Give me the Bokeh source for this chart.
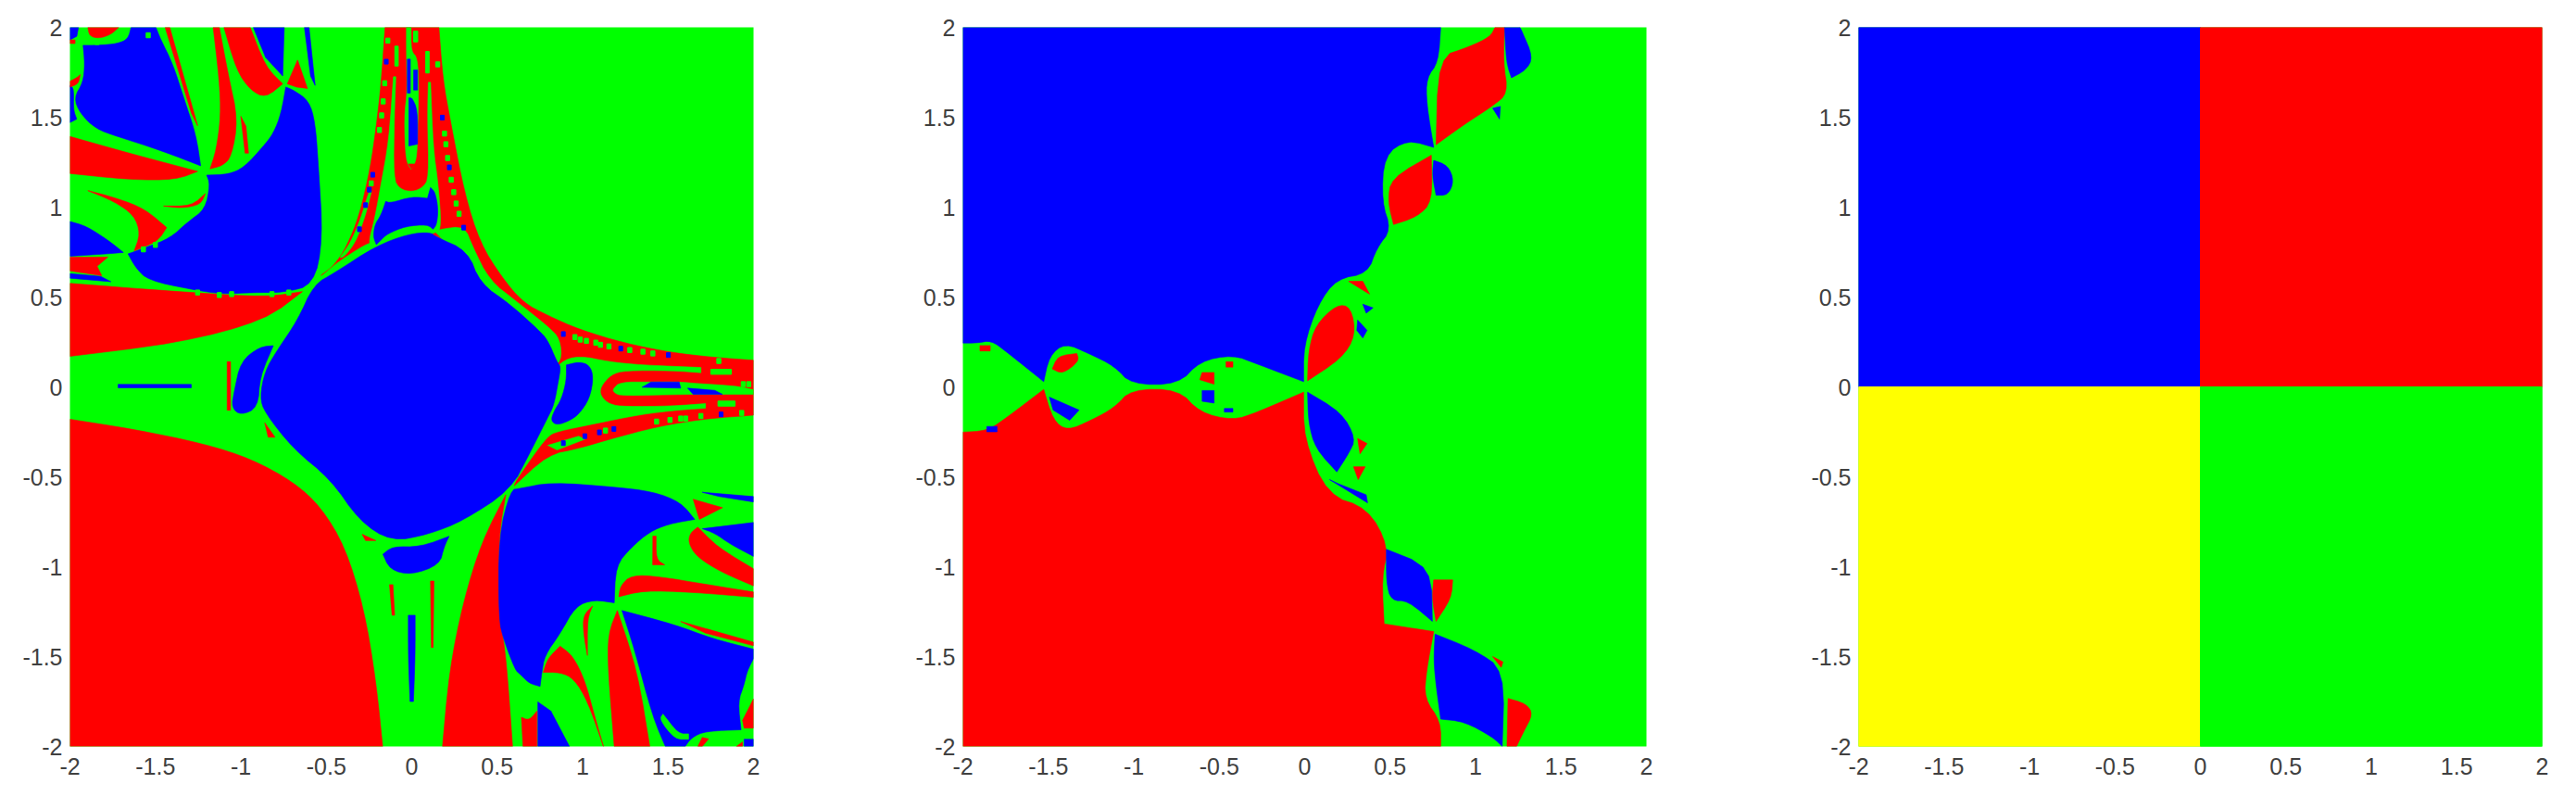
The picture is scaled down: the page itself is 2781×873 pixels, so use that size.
import math
from bokeh.plotting import figure
from bokeh.layouts import row
from bokeh.models import Range1d, FixedTicker
from bokeh.embed import file_html
from bokeh.resources import INLINE

RED, GREEN, BLUE, YELLOW = "#ff0000", "#00ff00", "#0000ff", "#ffff00"
tick_values = [-2, -1.5, -1, -0.5, 0, 0.5, 1, 1.5, 2]
tick_labels = ["-2", "-1.5", "-1", "-0.5", "0", "0.5", "1", "1.5", "2"]

# ---------- panel 1: outlines (x, y) ----------
a_red_bottom_left = [(-2,-0.18),(-1.63,-0.235),(-1.22,-0.315),(-0.94,-0.40),(-0.69,-0.53),(-0.53,-0.67),(-0.39,-0.89),(-0.28,-1.23),(-0.21,-1.63),(-0.17,-2),(-2,-2)]
a_red_bottom_mid = [(0.18,-2),(0.22,-1.58),(0.30,-1.2),(0.41,-0.86),(0.55,-0.60),(0.509,-0.83),(0.509,-1.29),(0.537,-1.40),(0.56,-1.6),(0.59,-2)]
a_red_left_mid = [(-2,0.576),(-1.651,0.55),(-1.289,0.525),(-0.855,0.499),(-0.64,0.53),(-0.86,0.37),(-1.36,0.245),(-2,0.17)]
a_red_top = [(-0.53,0.62),(-0.451,0.679),(-0.379,0.783),(-0.306,0.955),(-0.243,1.213),(-0.207,1.453),(-0.18,1.677),(-0.156,2),(0.159,2),(0.182,1.711),(0.228,1.47),(0.309,1.075),(0.40,0.80),(0.526,0.611),(0.65,0.47),(0.796,0.397),(0.977,0.32),(1.249,0.242),(1.52,0.191),(1.755,0.165),(2,0.148),(2,-0.157),(1.70,-0.179),(1.43,-0.222),(1.158,-0.291),(0.977,-0.342),(0.796,-0.377),(0.60,-0.55),(0.75,-0.2),(0.8,0.15),(0.3,0.8),(-0.1,0.9)]
a_green_c_top = [(-0.107,1.725),(-0.093,1.725),(-0.102,1.505),(-0.107,1.161),(-0.071,1.101),(0.002,1.084),(0.065,1.109),(0.101,1.161),(0.092,1.505),(0.097,1.694),(0.110,1.694),(0.125,1.333),(0.155,1.127),(0.173,0.894),(0.146,0.851),(-0.234,0.783),(-0.252,0.808),(-0.216,0.937),(-0.18,1.127),(-0.134,1.367)]
a_green_u_top = [(-0.031,2),(-0.004,2),(-0.004,1.866),(0.034,1.832),(0.041,1.660),(0.034,1.419),(0.029,1.264),(-0.002,1.209),(-0.035,1.256),(-0.044,1.505),(-0.026,1.643),(-0.031,1.849)]
a_green_stripe_top = [(-0.25,1.09),(-0.235,1.09),(-0.27,0.955),(-0.33,0.80),(-0.40,0.72),(-0.42,0.72),(-0.36,0.80),(-0.30,0.93)]
a_green_diag_tl = [(-0.22,0.80),(-0.26,0.80),(-0.47,0.67),(-0.574,0.568),(-0.45,0.62)]
a_green_diag_tr = [(0.14,0.86),(0.164,0.877),(0.309,0.894),(0.355,0.783),(0.454,0.593),(0.62,0.47),(0.796,0.337),(0.868,0.268),(0.877,0.14),(0.80,0.1),(0.3,0.7)]
a_green_c_right = [(0.868,0.139),(0.977,0.174),(1.158,0.139),(1.339,0.122),(1.692,0.108),(1.692,0.079),(1.52,0.091),(1.249,0.091),(1.167,0.070),(1.104,0.0),(1.104,-0.05),(1.158,-0.098),(1.249,-0.11),(1.52,-0.107),(1.719,-0.093),(1.719,-0.119),(1.574,-0.127),(1.339,-0.153),(1.068,-0.205),(0.85,-0.248),(0.796,-0.274),(0.70,-0.395),(0.60,-0.535),(0.65,-0.40),(0.796,-0.1),(0.796,0.036)]
a_green_u_right = [(1.176,-0.012),(1.221,0.027),(1.393,0.027),(1.574,0.027),(1.665,0.019),(1.90,0.005),(2,-0.016),(2,-0.041),(1.882,-0.041),(1.61,-0.041),(1.23,-0.05),(1.185,-0.033)]
a_green_stripe_low = [(0.796,-0.325),(0.977,-0.274),(1.013,-0.291),(0.85,-0.351)]
a_blue_right_strip_1 = [(1.348,-0.002),(1.40,0.027),(1.565,0.027),(1.574,-0.007)]
a_blue_right_strip_2 = [(1.614,-0.007),(1.646,-0.041),(1.818,-0.041),(1.773,-0.019)]
a_blue_u_1 = [(-0.026,1.823),(-0.008,1.823),(-0.008,1.634),(-0.026,1.634)]
a_blue_u_2 = [(0.011,1.763),(0.034,1.763),(0.034,1.651),(0.011,1.651)]
a_blue_u_3 = [(-0.017,1.608),(0.002,1.608),(0.034,1.54),(0.034,1.35),(-0.017,1.34)]
a_red_u_tip = [(-0.02,1.24),(0.02,1.24),(0,1.21)]
a_blue_lens_top = [(-0.225,0.834),(-0.216,0.903),(-0.18,0.955),(-0.152,1.032),(-0.125,1.023),(0.002,1.058),(0.092,1.049),(0.110,1.109),(0.137,1.083),(0.155,0.989),(0.146,0.903),(0.125,0.877),(0.092,0.903),(-0.035,0.894),(-0.143,0.851),(-0.18,0.817),(-0.207,0.791)]
a_blue_lens_right = [(0.905,0.122),(0.977,0.139),(1.04,0.122),(1.064,0.053),(1.04,-0.067),(0.977,-0.153),(0.923,-0.188),(0.85,-0.213),(0.814,-0.188),(0.832,-0.136),(0.877,-0.067),(0.905,0.036)]
a_blue_lens_left = [(-1.04,-0.029),(-1.0,0.143),(-0.888,0.223),(-0.81,0.229),(-0.888,0.057),(-0.90,-0.115),(-1.0,-0.158),(-1.054,-0.115)]
a_blue_lens_bottom = [(-0.169,-0.931),(-0.113,-0.888),(0.05,-0.89),(0.219,-0.831),(0.19,-0.888),(0.163,-0.989),(-0.003,-1.046),(-0.127,-1.017)]
a_blue_diamond = [(-0.574,0.568),(-0.451,0.635),(-0.207,0.785),(-0.017,0.851),(0.11,0.86),(0.14,0.835),(0.327,0.757),(0.40,0.576),(0.578,0.458),(0.744,0.315),(0.796,0.26),(0.85,0.139),(0.872,0.113),(0.859,0.036),(0.832,-0.102),(0.796,-0.17),(0.69,-0.37),(0.578,-0.573),(0.30,-0.745),(0.10,-0.82),(-0.12,-0.86),(-0.307,-0.745),(-0.473,-0.516),(-0.694,-0.344),(-0.86,-0.143),(-0.888,-0.057),(-0.86,0.086),(-0.79,0.2),(-0.667,0.372)]
a_blue_main_tl = [(-1.2,1.178),(-1.072,1.182),(-0.981,1.221),(-0.873,1.333),(-0.809,1.41),(-0.764,1.522),(-0.737,1.668),(-0.692,1.651),(-0.601,1.591),(-0.565,1.47),(-0.547,1.247),(-0.52,0.817),(-0.574,0.568),(-0.746,0.525),(-0.927,0.525),(-1.108,0.516),(-1.289,0.542),(-1.542,0.593),(-1.615,0.662),(-1.66,0.74),(-1.56,0.774),(-1.416,0.826),(-1.307,0.92),(-1.208,0.989),(-1.18,1.127)]
a_blue_corner_tl = [(-1.923,1.9),(-1.832,1.9),(-1.723,1.909),(-1.66,1.935),(-1.642,2),(-1.497,2),(-1.47,1.935),(-1.398,1.797),(-1.334,1.608),(-1.262,1.402),(-1.235,1.23),(-1.47,1.316),(-1.723,1.393),(-1.85,1.436),(-1.941,1.522),(-1.977,1.608),(-1.923,1.694),(-1.913,1.797)]
a_blue_edge_1 = [(-2,1.677),(-1.977,1.66),(-1.98,1.54),(-1.96,1.49),(-2,1.47)]
a_blue_edge_2 = [(-2,2),(-1.95,2),(-1.96,1.95),(-2,1.93)]
a_blue_left = [(-2,0.92),(-1.904,0.894),(-1.778,0.817),(-1.687,0.748),(-1.778,0.74),(-2,0.727)]
a_blue_left_thin = [(-2,0.63),(-1.82,0.615),(-1.76,0.585),(-2,0.605)]
a_blue_top_1 = [(-0.927,2),(-0.746,2),(-0.755,1.729),(-0.855,1.832)]
a_blue_top_2 = [(-0.628,2),(-0.601,2),(-0.565,1.677),(-0.592,1.729)]
a_blue_mid_left = [(-1.718,0.014),(-1.29,0.014),(-1.29,-0.005),(-1.718,-0.005)]
a_blue_bottom_stripe = [(-0.02,-1.27),(0.02,-1.27),(0.02,-1.5),(0.01,-1.75),(-0.01,-1.75),(-0.02,-1.5)]
a_red_arc_top = [(-1.895,2),(-1.714,2),(-1.76,1.96),(-1.832,1.938),(-1.886,1.952)]
a_red_edge_1 = [(-2,1.93),(-1.97,1.93),(-1.97,1.91),(-2,1.91)]
a_red_edge_2 = [(-2,1.70),(-1.96,1.72),(-1.94,1.737),(-1.95,1.686),(-2,1.668)]
a_red_wedge_left = [(-2,1.393),(-1.651,1.299),(-1.253,1.199),(-1.38,1.152),(-1.651,1.152),(-2,1.187)]
a_red_crescent_left = [(-1.895,1.092),(-1.723,1.049),(-1.56,0.989),(-1.434,0.886),(-1.488,0.808),(-1.624,0.757),(-1.588,0.851),(-1.624,0.955),(-1.742,1.032)]
a_red_thin_left = [(-1.452,1.006),(-1.289,1.006),(-1.208,1.075),(-1.235,1.015),(-1.343,0.994)]
a_red_strip_left = [(-2,0.722),(-1.778,0.722),(-1.841,0.671),(-1.814,0.619),(-2,0.645)]
a_red_leaf_1 = [(-1.162,2),(-1.126,2),(-1.072,1.729),(-1.017,1.488),(-1.054,1.281),(-1.108,1.23),(-1.18,1.213),(-1.144,1.316),(-1.117,1.505),(-1.126,1.711)]
a_red_leaf_2 = [(-1.099,2),(-0.945,2),(-0.855,1.78),(-0.755,1.686),(-0.855,1.608),(-0.945,1.651),(-1.026,1.763)]
a_red_tip = [(-0.728,1.686),(-0.668,1.818),(-0.61,1.66),(-0.674,1.668)]
a_red_hair_1 = [(-1.443,2),(-1.416,2),(-1.253,1.453),(-1.289,1.522)]
a_red_hair_2 = [(-1.0,1.505),(-0.97,1.45),(-0.955,1.3),(-0.975,1.3)]
a_red_hair_3 = [(-1.08,0.14),(-1.06,0.14),(-1.06,-0.13),(-1.08,-0.13)]
a_red_small_1 = [(-0.86,-0.2),(-0.80,-0.28),(-0.84,-0.28)]
a_red_small_2 = [(-0.29,-0.82),(-0.21,-0.855),(-0.27,-0.855)]
a_red_hair_4 = [(-0.13,-1.1),(-0.11,-1.1),(-0.10,-1.27),(-0.115,-1.27)]
a_red_hair_5 = [(0.11,-1.08),(0.13,-1.08),(0.125,-1.45),(0.115,-1.45)]
a_blue_br_main = [(0.578,-0.573),(0.633,-0.565),(0.814,-0.531),(1.176,-0.556),(1.411,-0.582),(1.574,-0.642),(1.656,-0.737),(1.502,-0.763),(1.393,-0.806),(1.285,-0.892),(1.194,-0.995),(1.185,-1.201),(1.067,-1.184),(0.959,-1.219),(0.868,-1.373),(0.778,-1.494),(0.76,-1.597),(0.751,-1.666),(0.687,-1.649),(0.633,-1.597),(0.606,-1.576),(0.537,-1.404),(0.509,-1.289),(0.509,-0.831)]
a_blue_br_right = [(1.701,-0.789),(2,-0.754),(2,-0.943),(1.864,-0.875),(1.773,-0.814)]
a_blue_br_thin = [(1.70,-0.586),(2,-0.61),(2,-0.64),(1.8,-0.61)]
a_blue_br_low = [(1.23,-1.244),(1.538,-1.322),(1.755,-1.399),(2,-1.459),(2,-1.511),(1.963,-1.58),(1.945,-1.657),(1.909,-1.752),(1.927,-1.907),(1.719,-1.915),(1.638,-1.95),(1.60,-2),(1.484,-2),(1.411,-1.838),(1.303,-1.459)]
a_red_br_triangle = [(1.647,-0.625),(1.819,-0.672),(1.683,-0.737)]
a_red_br_crescent = [(1.674,-0.78),(1.791,-0.892),(2,-1.012),(2,-1.107),(1.81,-1.03),(1.665,-0.943),(1.619,-0.866),(1.629,-0.814)]
a_red_br_wedge = [(1.212,-1.167),(1.221,-1.107),(1.285,-1.047),(1.448,-1.055),(1.719,-1.098),(2,-1.141),(2,-1.17),(1.629,-1.141),(1.357,-1.133)]
a_red_br_big = [(1.203,-1.244),(1.32,-1.58),(1.393,-2),(1.185,-2),(1.149,-1.58),(1.149,-1.373)]
a_red_br_leaf = [(0.769,-1.588),(0.796,-1.511),(0.868,-1.442),(0.941,-1.494),(1.013,-1.631),(1.067,-1.821),(1.122,-2),(1.031,-1.752),(0.95,-1.623),(0.868,-1.588)]
a_red_br_thin = [(1.004,-1.27),(1.058,-1.219),(1.028,-1.287),(1.028,-1.494),(1.005,-1.37)]
a_red_br_low_1 = [(0.642,-1.838),(0.687,-1.855),(0.733,-1.803),(0.733,-2),(0.651,-2)]
a_red_br_low_2 = [(1.674,-2),(1.70,-1.95),(1.737,-1.958),(1.70,-2)]
a_red_br_low_3 = [(1.90,-2),(1.935,-1.975),(1.935,-2)]
a_red_br_corner = [(1.936,-1.855),(2,-1.735),(2,-1.898),(1.945,-1.898)]
a_red_br_hair = [(1.574,-1.305),(2,-1.42),(2,-1.44),(1.72,-1.37)]
a_red_br_fleck = [(1.411,-0.83),(1.43,-0.83),(1.43,-0.96),(1.48,-0.99),(1.41,-0.99)]
a_blue_br_bottom = [(0.738,-1.752),(0.814,-1.803),(0.923,-2),(0.738,-2)]
a_blue_br_corner = [(1.945,-1.96),(2,-1.96),(2,-2),(1.945,-2)]
a_green_br_hook = [(1.47,-1.82),(1.56,-1.93),(1.62,-1.93),(1.62,-1.96),(1.54,-1.96),(1.45,-1.85)]

a_red_layer = [a_red_top, a_red_bottom_left, a_red_bottom_mid, a_red_left_mid]
a_green_layer = [a_green_c_top, a_green_stripe_top, a_green_diag_tl, a_green_diag_tr, a_green_c_right, a_green_stripe_low]
a_inner_green = [a_green_u_top, a_green_u_right]
a_blue_layer = [a_blue_lens_top, a_blue_lens_right, a_blue_lens_left, a_blue_lens_bottom, a_blue_diamond, a_blue_main_tl, a_blue_corner_tl,
                a_blue_edge_1, a_blue_edge_2, a_blue_left, a_blue_left_thin, a_blue_top_1, a_blue_top_2, a_blue_mid_left, a_blue_bottom_stripe,
                a_blue_br_main, a_blue_br_right, a_blue_br_thin, a_blue_br_low, a_blue_br_bottom, a_blue_br_corner,
                a_blue_u_1, a_blue_u_2, a_blue_u_3, a_blue_right_strip_1, a_blue_right_strip_2]
a_red_small = [a_red_u_tip, a_red_arc_top, a_red_edge_1, a_red_edge_2, a_red_wedge_left, a_red_crescent_left, a_red_thin_left,
               a_red_strip_left, a_red_leaf_1, a_red_leaf_2, a_red_tip, a_red_hair_1, a_red_hair_2, a_red_hair_3, a_red_hair_4, a_red_hair_5,
               a_red_small_1, a_red_small_2, a_red_br_triangle, a_red_br_crescent, a_red_br_wedge, a_red_br_big, a_red_br_leaf, a_red_br_thin,
               a_red_br_low_1, a_red_br_low_2, a_red_br_low_3, a_red_br_corner, a_red_br_hair, a_red_br_fleck]

a_green_dots = [(0.955,0.277),(0.986,0.263),(1.022,0.256),(1.077,0.246),(1.104,0.234),(1.154,0.225),(1.276,0.205),(1.353,0.196),(1.411,0.186),(1.797,0.144),
                (1.433,-0.193),(1.511,-0.184),(1.574,-0.176),(1.603,-0.176),(1.692,-0.162),(1.931,-0.145),(1.94,0.015),(1.972,0.015),(1.134,-0.243),
                (-0.14,1.926),(0.152,1.794),(-0.158,1.689),(-0.167,1.588),(-0.176,1.51),(-0.189,1.429),(-0.237,1.132),(0.192,1.409),(0.2,1.35),(0.21,1.273),
                (0.231,1.152),(0.246,1.083),(0.26,1.02),(0.277,0.963),(-1.253,0.525),(-1.126,0.511),(-1.054,0.516),(-0.818,0.516),(-0.719,0.525),
                (-1.542,1.956),(-1.841,1.918),(-1.57,0.765),(-1.50,0.79),(-1.35,0.93),(-1.30,0.96)]
a_green_bars = [(-0.089,1.84),(0.023,1.949),(0.092,1.806),(1.81,0.084),(1.842,-0.093)]
a_green_bar_w = [0.02,0.024,0.02,0.12,0.10]
a_green_bar_h = [0.11,0.06,0.12,0.028,0.028]
a_blue_dots = [(0.887,0.294),(1.223,0.213),(1.502,0.177),(1.81,-0.153),(1.183,-0.234),(1.098,-0.253),(1.013,-0.274),(0.887,-0.313),
               (-0.149,1.809),(-0.228,1.18),(-0.248,1.097),(0.179,1.498),(0.22,1.221),(-0.27,1.011),(-0.306,0.877),(0.304,0.886)]

# ---------- panel 2 ----------
b_blue_top = [(-2,0.244),(-1.917,0.244),(-1.834,0.258),(-1.751,0.2),(-1.527,0.029),(-1.494,0.172),(-1.403,0.244),(-1.264,0.186),(-1.112,0.115),(-1.015,0.014),(-0.738,0.014),(-0.614,0.143),(-0.42,0.178),(-0.282,0.129),(-0.006,0.029),(-0.006,0.229),(0.077,0.458),(0.188,0.602),(0.368,0.63),(0.423,0.774),(0.506,0.874),(0.451,1.03),(0.465,1.289),(0.603,1.375),(0.755,1.332),(0.713,1.576),(0.713,1.719),(0.782,1.805),(0.796,2),(-2,2)]
b_red_bottom = [(-2,-0.252),(-1.856,-0.244),(-1.745,-0.172),(-1.527,-0.014),(-1.472,-0.186),(-1.389,-0.244),(-1.25,-0.186),(-1.112,-0.115),(-1.015,-0.014),(-0.738,-0.014),(-0.614,-0.143),(-0.42,-0.186),(-0.282,-0.143),(-0.006,-0.029),(-0.006,-0.287),(0.133,-0.602),(0.368,-0.673),(0.492,-0.888),(0.451,-1.06),(0.465,-1.318),(0.755,-1.361),(0.713,-1.576),(0.70,-1.733),(0.796,-1.862),(0.796,-2),(-2,-2)]
b_red_lobes = [
    [(-1.477,0.1),(-1.444,0.172),(-1.333,0.186),(-1.32,0.143),(-1.416,0.072)],
    [(-1.9,0.23),(-1.84,0.23),(-1.84,0.2),(-1.9,0.2)],
    [(-0.614,0.04),(-0.6,0.08),(-0.53,0.08),(-0.53,0.015)],
    [(-0.46,0.14),(-0.42,0.14),(-0.42,0.11),(-0.46,0.11)],
    [(0.017,0.034),(0.022,0.2),(0.064,0.344),(0.188,0.458),(0.271,0.444),(0.299,0.287),(0.216,0.158)],
    [(0.257,0.587),(0.34,0.587),(0.38,0.516),(0.32,0.55)],
    [(0.31,-0.287),(0.365,-0.315),(0.324,-0.372)],
    [(0.286,-0.444),(0.354,-0.444),(0.313,-0.516)],
    [(0.506,1.16),(0.741,1.289),(0.747,1.03),(0.658,0.946),(0.52,0.903),(0.487,1.03)],
    [(0.769,1.347),(0.782,1.834),(0.962,1.891),(1.086,1.948),(1.114,2),(1.17,2),(1.162,1.805),(1.19,1.633),(1.1,1.562),(0.935,1.461)],
    [(0.755,-1.074),(0.866,-1.074),(0.858,-1.175),(0.769,-1.304),(0.745,-1.175)],
    [(1.19,-1.733),(1.295,-1.762),(1.336,-1.82),(1.28,-1.92),(1.24,-2),(1.184,-2)],
    [(1.1,-1.5),(1.16,-1.53),(1.15,-1.56)],
]
b_blue_lobes = [
    [(-1.494,-0.057),(-1.32,-0.129),(-1.375,-0.186),(-1.472,-0.129)],
    [(-1.86,-0.22),(-1.80,-0.22),(-1.80,-0.25),(-1.86,-0.25)],
    [(-0.6,-0.02),(-0.53,-0.02),(-0.53,-0.09),(-0.6,-0.08)],
    [(-0.47,-0.12),(-0.42,-0.12),(-0.42,-0.14),(-0.47,-0.14)],
    [(0.31,0.372),(0.365,0.315),(0.34,0.272),(0.305,0.315)],
    [(0.34,0.46),(0.40,0.44),(0.36,0.41)],
    [(0.017,-0.029),(0.022,-0.2),(0.064,-0.344),(0.188,-0.473),(0.257,-0.372),(0.299,-0.287),(0.216,-0.143)],
    [(0.146,-0.516),(0.368,-0.645),(0.36,-0.60),(0.2,-0.54)],
    [(0.755,1.26),(0.838,1.232),(0.874,1.146),(0.838,1.066),(0.769,1.066),(0.747,1.175)],
    [(1.17,2),(1.26,2),(1.272,1.977),(1.336,1.834),(1.295,1.762),(1.21,1.719),(1.18,1.805)],
    [(1.1,1.55),(1.145,1.56),(1.14,1.49)],
    [(0.478,-0.903),(0.741,-1.003),(0.747,-1.304),(0.603,-1.189),(0.506,-1.189),(0.478,-1.089)],
    [(0.763,-1.375),(0.99,-1.461),(1.17,-1.576),(1.156,-2),(1.1,-1.948),(0.935,-1.862),(0.796,-1.848),(0.769,-1.662),(0.755,-1.519)],
]

# ---------- panel 3 ----------
c_left = [-2, 0, -2, 0]
c_right = [0, 2, 0, 2]
c_bottom = [0, 0, -2, -2]
c_top = [2, 2, 0, 0]
c_colors = [BLUE, RED, YELLOW, GREEN]


def rounded(outline, passes=2):
    """Round the corners of a traced outline; cusps and points on the frame stay put."""
    pts = list(outline)
    if len(pts) < 5:
        return pts
    for _ in range(passes):
        out = []
        n = len(pts)
        for i in range(n):
            a, b, c = pts[i - 1], pts[i], pts[(i + 1) % n]
            u = (a[0] - b[0], a[1] - b[1])
            v = (c[0] - b[0], c[1] - b[1])
            nu, nv = math.hypot(*u), math.hypot(*v)
            ang = math.degrees(math.acos(max(-1, min(1, (u[0] * v[0] + u[1] * v[1]) / (nu * nv + 1e-12)))))
            if abs(b[0]) >= 2 or abs(b[1]) >= 2 or ang < 105:
                out.append(b)
            else:
                out.append((b[0] + u[0] * 0.25, b[1] + u[1] * 0.25))
                out.append((b[0] + v[0] * 0.25, b[1] + v[1] * 0.25))
        pts = out
    return pts


def fill(p, polys, color):
    polys = [rounded(s) for s in polys]
    p.patches([[q[0] for q in s] for s in polys], [[q[1] for q in s] for s in polys],
              fill_color=color, line_color=color, line_width=0.6)


def panel(width, left, right):
    p = figure(width=width, height=860, output_backend="svg", toolbar_location=None,
               x_range=Range1d(-2, 2), y_range=Range1d(-2, 2), min_border_left=left, min_border_right=right,
               min_border_top=29, min_border_bottom=55, background_fill_color=GREEN, border_fill_color="white", outline_line_color=None)
    p.grid.visible = False
    for ax in (p.xaxis[0], p.yaxis[0]):
        ax.ticker = FixedTicker(ticks=tick_values)
        ax.major_label_overrides = dict(zip(tick_values, tick_labels))
        ax.axis_line_color = None
        ax.major_tick_line_color = None
        ax.minor_tick_line_color = None
        ax.major_tick_out = 0
        ax.major_tick_in = 0
        ax.major_label_text_font = "Liberation Sans"
        ax.major_label_text_font_size = "25px"
        ax.major_label_text_color = "#404040"
    p.xaxis[0].major_label_standoff = 12
    p.yaxis[0].major_label_standoff = 8
    return p


p1 = panel(960, 75, 147)
fill(p1, a_red_layer, RED)
fill(p1, a_green_layer, GREEN)
fill(p1, a_inner_green, GREEN)
fill(p1, a_blue_layer, BLUE)
fill(p1, a_red_small, RED)
fill(p1, [a_green_br_hook], GREEN)
p1.rect([d[0] for d in a_green_dots], [d[1] for d in a_green_dots], width=0.024, height=0.028, color=GREEN)
p1.rect([d[0] for d in a_green_bars], [d[1] for d in a_green_bars], width=a_green_bar_w, height=a_green_bar_h, color=GREEN)
p1.rect([d[0] for d in a_blue_dots], [d[1] for d in a_blue_dots], width=0.022, height=0.026, color=BLUE)

p2 = panel(965, 79, 148)
fill(p2, [b_blue_top], BLUE)
fill(p2, [b_red_bottom], RED)
fill(p2, b_red_lobes, RED)
fill(p2, b_blue_lobes, BLUE)

p3 = panel(848, 81, 29)
p3.quad(left=c_left, right=c_right, bottom=c_bottom, top=c_top, fill_color=c_colors, line_color=c_colors)

open("out.html", "w").write(file_html(row(p1, p2, p3, spacing=0), INLINE))
